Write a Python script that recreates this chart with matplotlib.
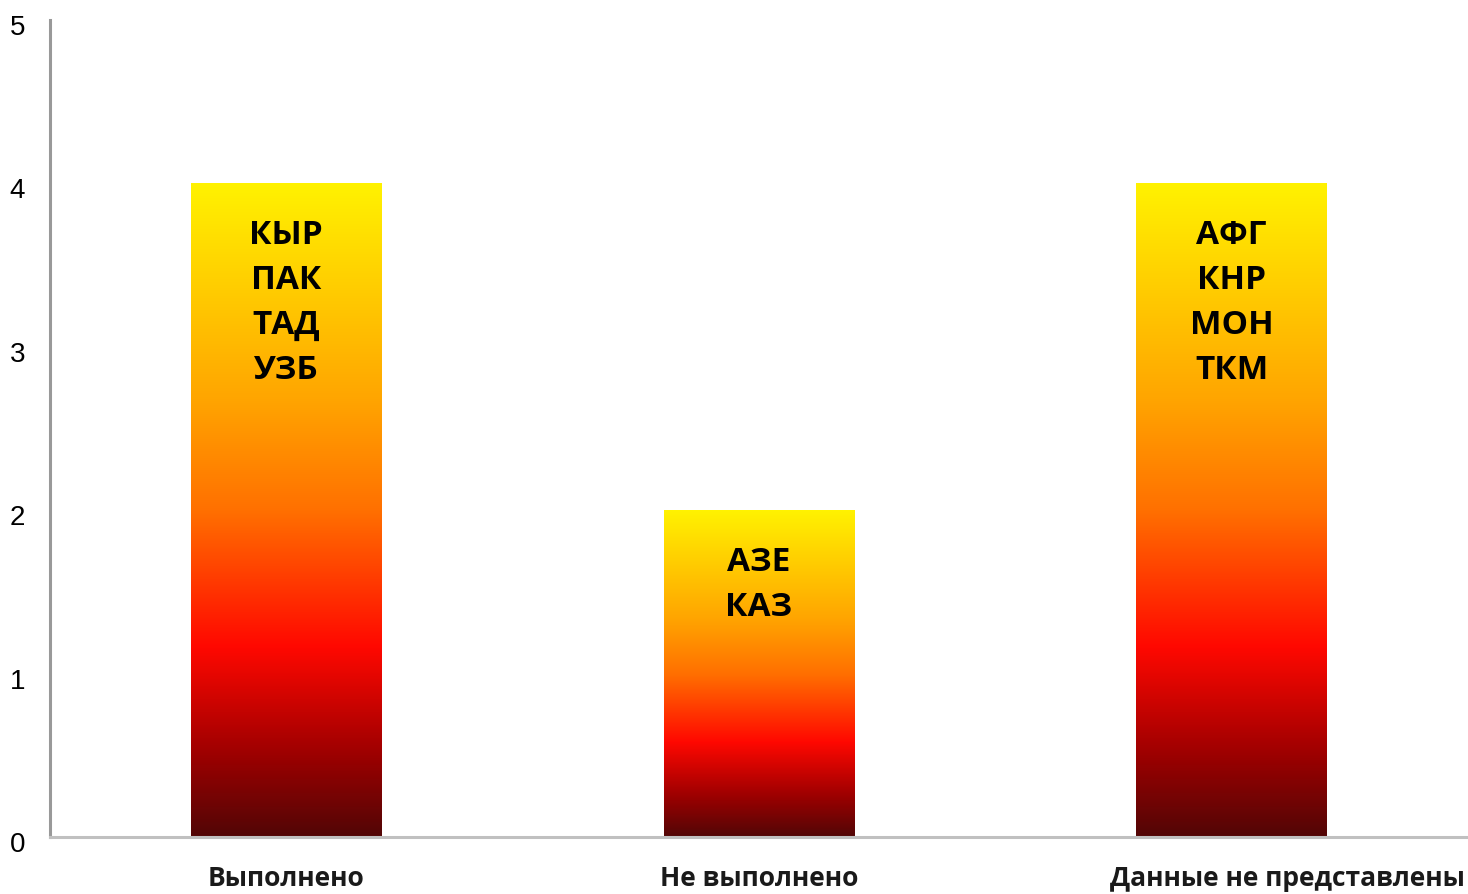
import numpy as np
import matplotlib.pyplot as plt
from matplotlib.colors import LinearSegmentedColormap
from matplotlib.transforms import ScaledTranslation

categories = ['Выполнено', 'Не выполнено', 'Данные не представлены']
values = [4, 2, 4]
countries = [['КЫР', 'ПАК', 'ТАД', 'УЗБ'],
             ['АЗЕ', 'КАЗ'],
             ['АФГ', 'КНР', 'МОН', 'ТКМ']]

# градиент: сверху жёлтый, снизу тёмно-красный
grad = LinearSegmentedColormap.from_list('fire', [
    (0.0, '#fff200'), (0.33, '#ffa500'), (0.5, '#ff7000'),
    (0.71, '#ff0800'), (0.87, '#a00000'), (1.0, '#520606')])

fig = plt.figure(figsize=(14.68, 8.94), dpi=100)
ax = fig.add_axes([0.034, 0.0638, 0.966, 0.9138])

width = 0.403
x = np.arange(len(categories))
g = np.linspace(0, 1, 256).reshape(-1, 1)
for xi, v, names in zip(x, values, countries):
    ax.imshow(g, cmap=grad, aspect='auto', origin='upper',
              extent=[xi - width / 2, xi + width / 2, 0, v], zorder=2)
    ax.text(xi, v - 0.22, '\n'.join(names), ha='center', va='top',
            fontsize=24, fontweight='bold', family='Open Sans',
            linespacing=1.47, color='black', zorder=3)

ax.set_xlim(-0.5, 2.5)
ax.set_ylim(0, 5)
ax.set_yticks(range(6))
ax.set_yticklabels([str(i) for i in range(6)], family='Liberation Sans', fontsize=20)
ax.tick_params(axis='y', length=0, pad=18)
for t in ax.get_yticklabels():
    t.set_transform(t.get_transform() + ScaledTranslation(0, -0.05, fig.dpi_scale_trans))
ax.set_xticks(x)
ax.set_xticklabels(categories, fontsize=19, fontweight='bold',
                   family='Open Sans', color='#1a1a1a')
ax.tick_params(axis='x', length=0, pad=20)
# последняя подпись смещена вправо, как в оригинале
lbl = ax.get_xticklabels()[-1]
lbl.set_transform(lbl.get_transform() + ScaledTranslation(0.56, 0, fig.dpi_scale_trans))

for s in ['top', 'right']:
    ax.spines[s].set_visible(False)
ax.spines['left'].set_color('#999999')
ax.spines['left'].set_linewidth(2.2)
ax.spines['bottom'].set_color('#c0c0c0')
ax.spines['bottom'].set_linewidth(2.2)

fig.savefig('out.png', dpi=100)
